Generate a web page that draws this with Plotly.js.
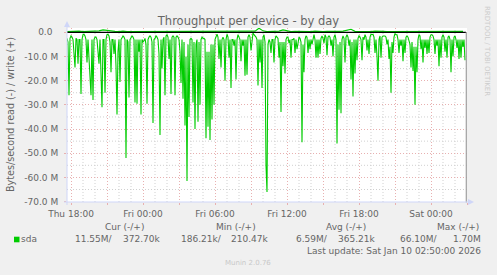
<!DOCTYPE html>
<html>
<head>
<meta charset="utf-8">
<script src="https://cdn.plot.ly/plotly-3.0.1.min.js"></script>
<style>html,body{margin:0;padding:0;background:#f0f0f0;}#chart{width:497px;height:275px;}</style>
</head>
<body>
<div id="chart"></div>
<script>
// Read throughput (negative, MB/s) sampled every 5 minutes starting Thu Jan 8 2026 17:40
const readM = [
-2.5,-4,-26,-2.5,-1.5,-2,-3,-8,-14.5,-2.5,
-3,-13,-3,-3,-25.5,-3,-1,-0.8,-1.5,-3,
-12.5,-3,-10,-22,-26,-3,-28,-3,-2,-2,
-3,-8,-13,-3,-14,-31,-3,-3,-25,-3,
-1,-0.8,-1.5,-4,-16.5,-3,-3,-9,-3,-14,
-34,-8,-3,-20.5,-3,-2,-1.5,-2,-3,-52,
-3,-4,-27,-3,-2,-1.5,-2,-3,-29,-3,
-29.5,-3,-8,-3,-34,-3,-4,-3.5,-2.5,-5,
-29.5,-3,-2,-1.5,-2,-4,-37.5,-3,-2.5,-1.5,
-2,-3,-9,-42.5,-3,-15,-3,-2,-26,-1.5,
-1,-2,-11,-3,-25.5,-2,-1.5,-2,-26,-2,
-1.5,-2,-3,-8,-21,-3,-27.5,-4,-38.5,-10,
-61.5,-5,-35,-3,-2.5,-3,-29,-4,-40,-5,
-3,-37,-4,-30,-3,-2,-2.5,-2.5,-3,-43.8,
-8,-39,-8,-44.5,-5,-36,-5,-30,-3,-1.5,
-0.8,-2,-11,-3,-14.5,-3,-2,-3,-20,-3,
-0.8,-2,-10.5,-3,-23,-3,-3,-5.5,-3,-19.5,
-3,-1,-2,-3,-12,-3,-5.5,-3,-18,-3,
-17.5,-2,-1,-2,-7.5,-2,-0.3,-1,-1.5,-2,
-3,-22,-3,-12.5,-3,-23,-2,-1,-4,-55,
-66,-5,-3,-4,-8.5,-3,-3,-12.5,-3,-1.5,
-2,-2.5,-10.5,-4,-33,-4,-14,-4,-17,-3,
-2,-2,-4.5,-3,-10.5,-3,-3,-2.5,-8.5,-3,
-7,-3,-2,-2.5,-4,-45.5,-5,-16.5,-3,-1.5,
-2,-8.5,-3,-7,-3,-5,-2,-1,-3,-10.5,
-3,-10.5,-3,-9,-2.5,-1.5,-2.5,-4.5,-1,-2,
-9.5,-2,-1.5,-2,-5.5,-3,-10,-2,-1,-3,
-46,-5,-32,-4,-33.5,-3,-1.5,-2.5,-12.5,-2,
-1,-2,-5.5,-3,-19.5,-4,-26.5,-3,-17,-3,
-11.5,-2.5,-1.5,-2,-3,-11.5,-2,-3,-1,-2,
-7.5,-3,-9,-2,-0.8,-1,-0.8,-2,-8.5,-3,
-10,-20,-3,-1.5,-10.5,-2,-1.5,-1.5,-1.5,-2,
-5,-3,-11,-6,-25,-4,-8.5,-2,-0.5,-1,
-1,-3,-8.5,-3,-5.5,-3,-12,-3,-8.5,-2,
-1.5,-2,-3.5,-5,-14.5,-4,-16,-6,-30,-6,
-16.5,-3,-1,-1.5,-7,-3,-12.5,-3,-6.5,-3,
-9,-3,-8.5,-2,-1,-1,-1.5,-3,-9,-3,
-5.5,-3,-14,-3,-10.5,-2,-1,-2,-8,-3,
-10.5,-2,-1.5,-3,-16.5,-3,-10,-2,-1.5,-3,
-6.5,-3,-11,-3,-10.5,-3,-6,-3,-11.55
];
// Write throughput (positive, MB/s) sampled every 20 minutes from the same start
const writeM = [
0.3,0.4,0.3,0.5,0.3,0.4,0.3,0.4,0.6,1.0,
0.8,0.3,0.4,0.3,0.5,0.3,0.3,0.4,0.3,0.5,
0.3,0.4,0.3,0.3,0.5,0.3,0.4,0.3,0.3,0.4,
0.3,0.5,0.3,0.4,0.3,0.3,0.4,0.3,0.5,0.3,
0.4,0.3,0.3,0.5,0.4,0.3,0.4,0.5,1.7,0.6,
0.3,0.4,0.3,0.5,1.0,0.6,0.3,0.4,0.3,0.3,
0.4,0.3,0.5,0.3,0.3,0.4,0.3,0.3,0.4,0.5,
0.8,1.25,0.4,0.3,0.3,0.4,0.3,0.5,0.3,0.4,
0.3,0.3,0.5,0.3,0.4,0.3,0.3,0.4,0.3,0.5,
0.3,0.4,0.3,0.3,0.4,0.3,0.5,0.3,0.4,0.37
];
const yTickVals = [-70,-60,-50,-40,-30,-20,-10,0];
const yTickText = ["-70.0 M","-60.0 M","-50.0 M","-40.0 M","-30.0 M","-20.0 M","-10.0 M","0.0\u00a0\u00a0"];
const yMinorVals = [-65,-55,-45,-35,-25,-15,-5];
const xTickLabels = ["Thu 18:00","","Fri 00:00","","Fri 06:00","","Fri 12:00","","Fri 18:00","","Sat 00:00",""];
const legendHeaders = ["Cur (-/+)","Min (-/+)","Avg (-/+)","Max (-/+)"];
const legendRead = ["11.55M/","186.21k/","6.59M/","66.10M/"];
const legendWrite = ["372.70k","210.47k","365.21k","1.70M"];
const seriesName = "sda";
const lastUpdate = "Last update: Sat Jan 10 02:50:00 2026";

const start = Date.UTC(2026,0,8,17,40);
const step5 = 5*60*1000;
const HOUR = 3600*1000;
const readX = readM.map((_,i)=>start + i*step5);
const writeX = writeM.map((_,i)=>start + i*4*step5);
const firstTick = Date.UTC(2026,0,8,18,0);
const xTickVals = xTickLabels.map((_,i)=>firstTick + i*3*HOUR);
const xMinorVals = [];
for (let h=0; h<=33; h++) { if (h%3 !== 0) xMinorVals.push(firstTick + h*HOUR); }

// plot area in pixels
const L=67, R=467, T=28, B=202;
const X = px => (px-L)/(R-L);
const Y = py => (B-py)/(B-T);
const FONT = "DejaVu Sans, sans-serif";
const TXT = "#666666";
const GREEN = "#00cc00";
const AXIS = "#cfd6f8";
const MINOR = "#d0d0d0";
const MAJOR = "#e8b0b0";

function ann(text, px, py, xanchor, size, color, angle){
  return {text:text, x:X(px), y:Y(py), xref:'paper', yref:'paper', xanchor:xanchor, yanchor:'middle',
    showarrow:false, textangle:angle||0, font:{family:FONT, size:size, color:color}, borderpad:0};
}
const annotations = [
  ann("Bytes/second read (-) / write (+)", 10, 115, 'center', 9.6, TXT, -90),
  ann("RRDTOOL / TOBI OETIKER", 487, 51, 'center', 7, "#cccccc", 90),
  ann(seriesName, 20, 239.3, 'left', 9, TXT),
  ann(lastUpdate, 482, 251, 'right', 9, TXT),
  ann("Munin 2.0.76", 248, 262.7, 'center', 7, "#c8c8c8")
];
const headRight = [145,257,367,480];
const readRight = [114,223,329,439];
const writeRight = [161,269,376,482];
legendHeaders.forEach((t,i)=>annotations.push(ann(t, headRight[i], 226.7, 'right', 9, TXT)));
legendRead.forEach((t,i)=>annotations.push(ann(t, readRight[i], 239.3, 'right', 9, TXT)));
legendWrite.forEach((t,i)=>annotations.push(ann(t, writeRight[i], 239.3, 'right', 9, TXT)));

const shapes = [];
// minor grid
yMinorVals.forEach(v=>shapes.push({type:'line', xref:'paper', yref:'y', x0:0, x1:1, y0:v, y1:v,
  line:{color:MINOR, width:1, dash:'1px,2px'}, layer:'below'}));
xMinorVals.forEach(v=>shapes.push({type:'line', xref:'x', yref:'paper', x0:v, x1:v, y0:0, y1:1,
  line:{color:MINOR, width:1, dash:'1px,2px'}, layer:'below'}));
shapes.push(
  // legend swatch
  {type:'rect', xref:'paper', yref:'paper', x0:X(14), x1:X(19.5), y0:Y(242.3), y1:Y(236.7), fillcolor:GREEN, line:{width:0}},
  // zero rule
  {type:'line', xref:'paper', yref:'y', x0:0, x1:X(466), y0:0, y1:0, line:{color:'#000000', width:1.2}, layer:'above'},
  // right frame line
  {type:'line', xref:'paper', yref:'paper', x0:X(466.3), x1:X(466.3), y0:Y(32), y1:Y(202.5), line:{color:'#a0a0a0', width:1.2}, layer:'above'},
  // axes
  {type:'line', xref:'paper', yref:'paper', x0:X(67), x1:X(67), y0:Y(205), y1:Y(26), line:{color:AXIS, width:1}, layer:'above'},
  {type:'line', xref:'paper', yref:'paper', x0:X(64), x1:X(469), y0:Y(202), y1:Y(202), line:{color:AXIS, width:1}, layer:'above'},
  {type:'path', xref:'paper', yref:'paper', path:`M ${X(64)} ${Y(27)} L ${X(70)} ${Y(27)} L ${X(67)} ${Y(21)} Z`, fillcolor:AXIS, line:{width:0}, layer:'above'},
  {type:'path', xref:'paper', yref:'paper', path:`M ${X(468)} ${Y(199)} L ${X(468)} ${Y(205)} L ${X(474)} ${Y(202)} Z`, fillcolor:AXIS, line:{width:0}, layer:'above'}
);

const data = [
  {x:readX, y:readM, type:'scatter', mode:'lines', line:{color:GREEN, width:1.1}, hoverinfo:'skip', showlegend:false},
  {x:writeX, y:writeM, type:'scatter', mode:'lines', line:{color:GREEN, width:1.1}, hoverinfo:'skip', showlegend:false}
];

const layout = {
  width:497, height:275,
  paper_bgcolor:'#f0f0f0', plot_bgcolor:'#ffffff',
  margin:{l:L, r:497-R, t:T, b:275-B, pad:0},
  showlegend:false,
  font:{family:FONT, size:9, color:TXT},
  title:{text:"Throughput per device - by day", x:0.5, xanchor:'center', y:1-21/275, yref:'container', yanchor:'middle',
    font:{family:FONT, size:11.5, color:TXT}},
  xaxis:{type:'date', range:[start, start+400*step5], tickmode:'array', tickvals:xTickVals, ticktext:xTickLabels,
    showgrid:true, gridcolor:MAJOR, gridwidth:1, griddash:'1px,2px', zeroline:false, showline:false,
    ticks:'outside', ticklen:2, tickcolor:MAJOR, tickfont:{family:FONT, size:9, color:TXT}, ticklabelstandoff:1,
    fixedrange:true},
  yaxis:{range:[-70.17, 1.78], tickmode:'array', tickvals:yTickVals, ticktext:yTickText,
    showgrid:true, gridcolor:MAJOR, gridwidth:1, griddash:'1px,2px', zeroline:false, showline:false,
    ticks:'outside', ticklen:2, tickcolor:MAJOR, tickfont:{family:FONT, size:9, color:TXT}, ticklabelstandoff:4,
    fixedrange:true},
  annotations:annotations,
  shapes:shapes
};
Plotly.newPlot('chart', data, layout, {staticPlot:true, displayModeBar:false});
</script>
</body>
</html>
